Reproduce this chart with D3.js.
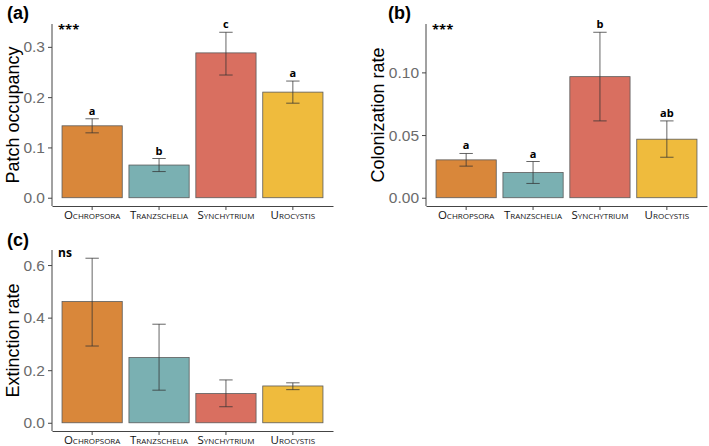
<!DOCTYPE html>
<html>
<head>
<meta charset="utf-8">
<script src="https://cdn.jsdelivr.net/npm/d3@7"></script>
<style>
  body { margin: 0; background: #fff; }
  svg { display: block; }
</style>
</head>
<body>
<script>
// genera on the x axis
const genera = ["Ochropsora", "Tranzschelia", "Synchytrium", "Urocystis"]
const colors = ["#d9873a", "#7ab0b2", "#d96f60", "#efbb3d"]

// (a) patch occupancy
const occMean = [0.143, 0.065, 0.288, 0.210]
const occLow = [0.129, 0.052, 0.244, 0.188]
const occHigh = [0.157, 0.078, 0.329, 0.232]
const occLetters = ["a", "b", "c", "a"]
const occTicks = [0, 0.1, 0.2, 0.3]

// (b) colonization rate
const colMean = [0.0302, 0.0201, 0.0966, 0.0467]
const colLow = [0.0252, 0.0114, 0.0613, 0.0323]
const colHigh = [0.0353, 0.0289, 0.132, 0.0613]
const colLetters = ["a", "a", "b", "ab"]
const colTicks = [0, 0.05, 0.10]

// (c) extinction rate
const extMean = [0.461, 0.248, 0.111, 0.140]
const extLow = [0.292, 0.124, 0.061, 0.126]
const extHigh = [0.626, 0.375, 0.163, 0.152]
const extLetters = ["", "", "", ""]
const extTicks = [0, 0.2, 0.4, 0.6]

const svg = d3.select("body").append("svg")
    .attr("width", 709)
    .attr("height", 446)

function drawPanel(opt) {
    const g = svg.append("g")
    const top = opt.top, bottom = opt.bottom, left = opt.left, right = opt.right
    const maxV = d3.max(opt.high)
    const pad = maxV * 0.05
    const y = d3.scaleLinear().domain([-pad, maxV + pad]).range([bottom, top])
    const x = d3.scaleBand().domain(genera).range([left, right])
        .paddingInner(0.1).paddingOuter(0.15)

    const rows = genera.map((k, i) => ({
        k: k, m: opt.mean[i], lo: opt.low[i], hi: opt.high[i], lab: opt.letters[i], c: colors[i]
    }))

    // bars
    g.selectAll("rect.bar").data(rows).join("rect")
        .attr("x", d => x(d.k))
        .attr("width", x.bandwidth())
        .attr("y", d => y(d.m))
        .attr("height", d => y(0) - y(d.m))
        .attr("fill", d => d.c)
        .attr("stroke", "#5a5a5a")
        .attr("stroke-width", 0.8)

    // error bars
    const cap = x.step() * 0.1
    const eb = g.selectAll("g.err").data(rows).join("g")
        .attr("stroke", "#333")
        .attr("stroke-opacity", 0.75)
        .attr("stroke-width", 1)
    eb.append("line")
        .attr("x1", d => x(d.k) + x.bandwidth() / 2)
        .attr("x2", d => x(d.k) + x.bandwidth() / 2)
        .attr("y1", d => y(d.lo)).attr("y2", d => y(d.hi))
    eb.append("line")
        .attr("x1", d => x(d.k) + x.bandwidth() / 2 - cap)
        .attr("x2", d => x(d.k) + x.bandwidth() / 2 + cap)
        .attr("y1", d => y(d.hi)).attr("y2", d => y(d.hi))
    eb.append("line")
        .attr("x1", d => x(d.k) + x.bandwidth() / 2 - cap)
        .attr("x2", d => x(d.k) + x.bandwidth() / 2 + cap)
        .attr("y1", d => y(d.lo)).attr("y2", d => y(d.lo))

    // significance letters
    g.selectAll("text.let").data(rows).join("text")
        .attr("x", d => x(d.k) + x.bandwidth() / 2)
        .attr("y", d => y(d.hi) - 4)
        .attr("text-anchor", "middle")
        .attr("font-family", "Open Sans, sans-serif")
        .attr("font-weight", "bold")
        .attr("font-size", 11)
        .text(d => d.lab)

    // y axis
    const ya = g.append("g").attr("transform", `translate(${left},0)`)
        .call(d3.axisLeft(y).tickValues(opt.ticks).tickFormat(d3.format(opt.fmt))
            .tickSize(4).tickPadding(3))
    ya.select(".domain").attr("stroke", "#444").attr("d", `M0,${bottom}V${top}`)
    ya.selectAll(".tick line").attr("stroke", "#444")
    ya.selectAll(".tick text").attr("fill", "#6b6b6b")
        .attr("font-family", "Liberation Sans, Arial, sans-serif").attr("font-size", 15.5)

    // x axis
    const xa = g.append("g").attr("transform", `translate(0,${bottom})`)
        .call(d3.axisBottom(x).tickSize(4).tickPadding(1).tickSizeOuter(0))
    xa.select(".domain").attr("stroke", "#444")
    xa.selectAll(".tick line").attr("stroke", "#444")
    xa.selectAll(".tick text").attr("fill", "#111")
        .attr("font-family", "Open Sans, sans-serif").attr("font-size", 11.5)
        .style("font-variant", "small-caps")

    // y title
    g.append("text")
        .attr("transform", `translate(${opt.titleX},${(top + bottom) / 2}) rotate(-90)`)
        .attr("text-anchor", "middle")
        .attr("font-family", "Liberation Sans, Arial, sans-serif")
        .attr("font-size", 18)
        .text(opt.title)

    // overall test
    g.append("text")
        .attr("x", left + 6).attr("y", top + opt.sigDy)
        .attr("font-family", "Open Sans, sans-serif")
        .attr("font-weight", "bold")
        .attr("font-size", opt.sigSize)
        .text(opt.sig)

    // panel tag
    g.append("text")
        .attr("x", opt.tagX).attr("y", opt.tagY)
        .attr("font-family", "Liberation Sans, Arial, sans-serif")
        .attr("font-weight", "bold")
        .attr("font-size", 18)
        .text(opt.tag)
}

drawPanel({top: 24, bottom: 206, left: 52, right: 333, mean: occMean, low: occLow, high: occHigh,
    letters: occLetters, ticks: occTicks, fmt: ".1f", title: "Patch occupancy", titleX: 19,
    sig: "***", sigDy: 10, sigSize: 13, tag: "(a)", tagX: 7, tagY: 19})
drawPanel({top: 24, bottom: 206, left: 426, right: 707, mean: colMean, low: colLow, high: colHigh,
    letters: colLetters, ticks: colTicks, fmt: ".2f", title: "Colonization rate", titleX: 384,
    sig: "***", sigDy: 10, sigSize: 13, tag: "(b)", tagX: 388, tagY: 19})
drawPanel({top: 250, bottom: 431, left: 52, right: 333, mean: extMean, low: extLow, high: extHigh,
    letters: extLetters, ticks: extTicks, fmt: ".1f", title: "Extinction rate", titleX: 19,
    sig: "ns", sigDy: 7, sigSize: 12, tag: "(c)", tagX: 7, tagY: 246})
</script>
</body>
</html>
